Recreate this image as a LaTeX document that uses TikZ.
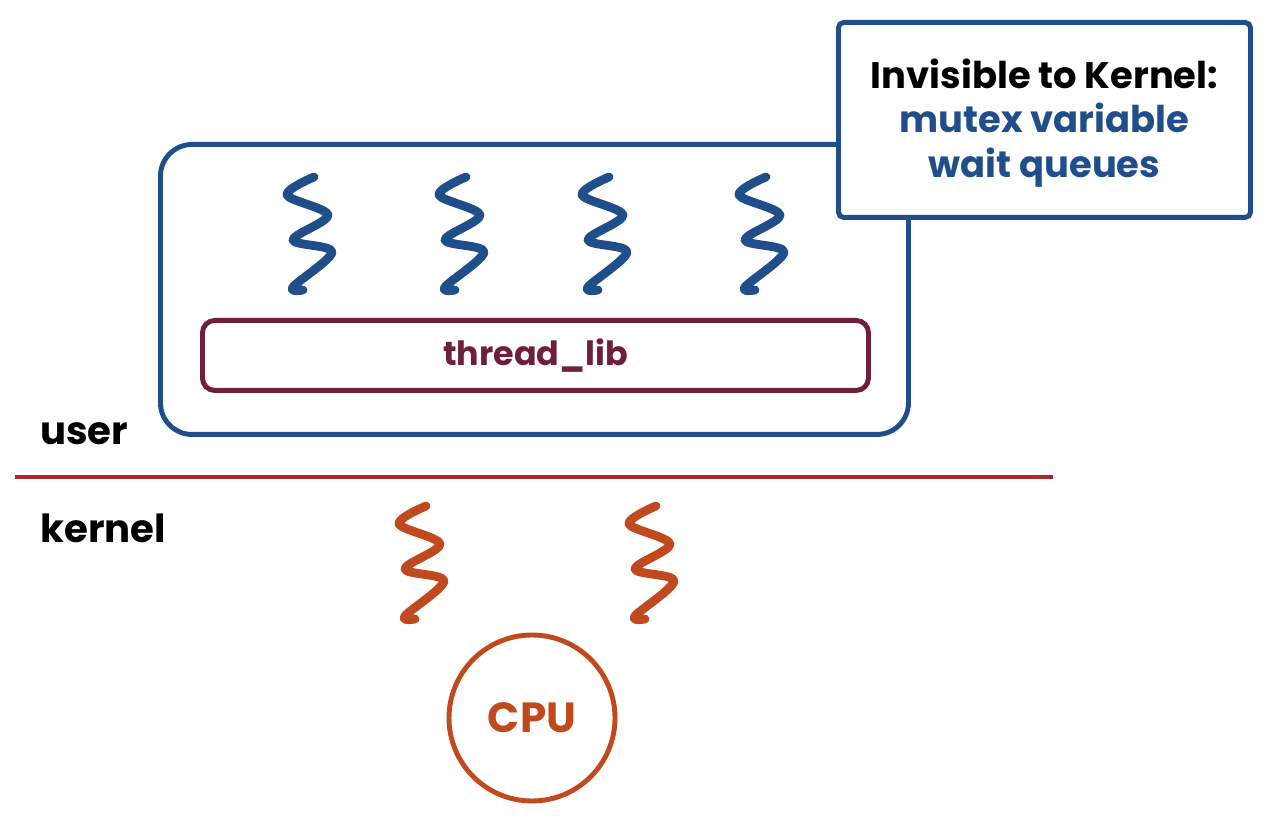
\documentclass[tikz,border=0pt]{standalone}
\usepackage{fontspec}
\usetikzlibrary{calc}
\setmainfont{Poppins}
\definecolor{tblue}{HTML}{1F4E8A}
\definecolor{tmaroon}{HTML}{6E1F3B}
\definecolor{tred}{HTML}{A8282E}
\definecolor{torange}{HTML}{C04A1E}
\tikzset{
  squig/.pic={\draw[line width=5pt,line cap=round,line join=round,pic actions]
    plot[smooth,tension=0.55] coordinates {(4,-55) (-23,-37) (18,-17) (-17,8) (22,20) (-17,55) (-7,58)};},
  lbl/.style={font=\bfseries\fontsize{19}{22}\selectfont,inner sep=0pt},
  big/.style={font=\bfseries\fontsize{22}{26}\selectfont,inner sep=0pt},
  box/.style={line width=2.8pt,anchor=north west},
}
\begin{document}
\begin{tikzpicture}[x=0.02cm,y=-0.02cm]
\useasboundingbox (0,0) rectangle (1269,820);
% user process box
\node[box,draw=tblue,rounded corners=18pt,minimum width=748*0.02cm,minimum height=290*0.02cm] (proc) at (158,142) {};
\node[box,draw=tmaroon,rounded corners=7pt,minimum width=666*0.02cm,minimum height=70*0.02cm] (lib) at (200,318) {};
\node[lbl,text=tmaroon] (libtxt) at (lib.center) {thread\_lib};
% callout
\node[box,draw=tblue,fill=white,rounded corners=3pt,minimum width=412*0.02cm,minimum height=195*0.02cm] (inv) at (836,20) {};
\node[font=\bfseries\fontsize{21}{25.5}\selectfont,inner sep=0pt,align=center] (invtxt) at ($(inv.center)+(0,3)$) {Invisible to Kernel:\\\textcolor{tblue}{mutex variable}\\\textcolor{tblue}{wait queues}};
% user-level threads
\foreach \x in {310,462,605,762} \pic[tblue] at (\x,232) {squig};
% boundary
\coordinate (bl) at (15,477);
\coordinate (br) at (1053,477);
\draw[tred,line width=2.6pt] (bl) -- (br);
\node[big,anchor=base west] (user) at (40,445) {user};
\node[big,anchor=base west] (kernel) at (40,543) {kernel};
% kernel threads
\foreach \x in {422,652} \pic[torange] at (\x,561) {squig};
% CPU
\node[circle,draw=torange,line width=2.8pt,minimum size=166*0.02cm,inner sep=0pt] (cpu) at (532,718) {};
\node[font=\bfseries\fontsize{24}{28}\selectfont,inner sep=0pt,text=torange] (cputxt) at (cpu.center) {CPU};
\end{tikzpicture}
\end{document}
